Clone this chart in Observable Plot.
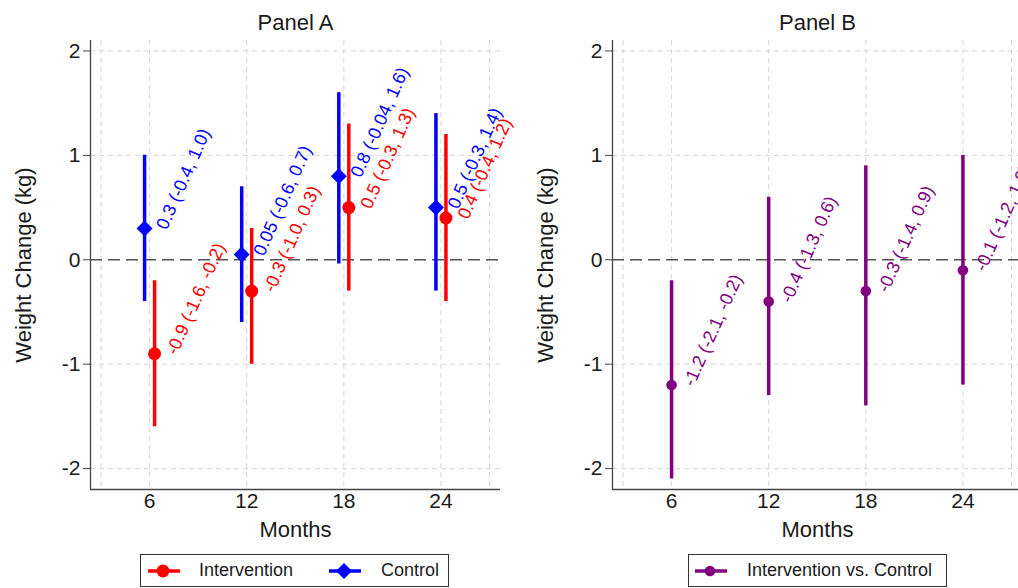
<!DOCTYPE html>
<html><head><meta charset="utf-8">
<script src="https://cdn.jsdelivr.net/npm/d3@7"></script>
<script src="https://cdn.jsdelivr.net/npm/@observablehq/plot@0.6"></script>
<style>
html,body{margin:0;padding:0;background:#fff;}
#wrap{position:relative;width:1018px;height:588px;overflow:hidden;font-family:"Liberation Sans",Arial,sans-serif;color:#1a1a1a;}
.panel{position:absolute;top:0;width:509px;height:588px;}
.panel svg{overflow:visible;max-width:none !important;width:509px;height:588px;}
.legend{position:absolute;top:554px;height:33px;box-sizing:border-box;border:1.5px solid #333;background:#fff;}
.legend .sym{position:absolute;top:5px;}
.legend .lab{position:absolute;top:0;line-height:30px;font-size:18px;white-space:nowrap;}
</style>
</head><body>
<div id="wrap"></div>
<script>
// ---- data ----
const months = [6, 12, 18, 24];
const interventionEst = [-0.9, -0.3, 0.5, 0.4];
const interventionLo  = [-1.6, -1.0, -0.3, -0.4];
const interventionHi  = [-0.2, 0.3, 1.3, 1.2];
const controlEst = [0.3, 0.05, 0.8, 0.5];
const controlLo  = [-0.4, -0.6, -0.04, -0.3];
const controlHi  = [1.0, 0.7, 1.6, 1.4];
const diffEst = [-1.2, -0.4, -0.3, -0.1];
const diffLo  = [-2.1, -1.3, -1.4, -1.2];
const diffHi  = [-0.2, 0.6, 0.9, 1.0];
const yTicks = [-2, -1, 0, 1, 2];
const xTicks = [6, 12, 18, 24];
const xGridVals = [3, 6, 12, 18, 24, 27];
const yGridVals = [-2, -1, 1, 2];
const panelTitles = ["Panel A", "Panel B"];
const yTitle = "Weight Change (kg)";
const xTitle = "Months";
const seriesNames = ["Intervention", "Control", "Intervention vs. Control"];

const xDomain = [2.35, 27.68];
const yDomain = [-2.2, 2.1];

const fmt = v => Math.abs(v * 10 - Math.round(v * 10)) < 1e-9 ? v.toFixed(1) : v.toFixed(2);
const rows = (est, lo, hi) => months.map((m, i) => ({
  m, est: est[i], lo: lo[i], hi: hi[i],
  label: `${fmt(est[i])} (${fmt(lo[i])}, ${fmt(hi[i])})`
}));

const intervention = rows(interventionEst, interventionLo, interventionHi);
const control = rows(controlEst, controlLo, controlHi);
const diff = rows(diffEst, diffLo, diffHi);

function seriesMarks(data, color, symbol, r, dx) {
  return [
    Plot.ruleX(data, {x: "m", y1: "lo", y2: "hi", dx, stroke: color, strokeWidth: 3.5}),
    Plot.dot(data, {x: "m", y: "est", dx, r, symbol, fill: color, stroke: "none"}),
    Plot.text(data, {x: "m", y: "est", text: "label", dx: dx + 17, rotate: -66,
      textAnchor: "start", lineAnchor: "middle", fill: color, fontSize: 18})
  ];
}

function panel(title, extra) {
  return Plot.plot({
    width: 509, height: 588,
    marginLeft: 90, marginRight: 9, marginTop: 40, marginBottom: 99,
    style: {fontFamily: '"Liberation Sans", Arial, sans-serif', fontSize: "21px", color: "#1a1a1a", background: "transparent", maxWidth: "none"},
    x: {domain: xDomain},
    y: {domain: yDomain},
    marks: [
      Plot.ruleY(yGridVals, {y: d => d, stroke: "#d6d6d6", strokeWidth: 1, strokeDasharray: "5,4"}),
      Plot.ruleX(xGridVals, {x: d => d, stroke: "#d6d6d6", strokeWidth: 1, strokeDasharray: "5,4"}),
      Plot.ruleY([0], {y: d => d, stroke: "#555", strokeWidth: 1.5, strokeDasharray: "12,6"}),
      Plot.ruleX([xDomain[0]], {x: d => d, stroke: "#444", strokeWidth: 1.3}),
      Plot.ruleY([yDomain[0]], {y: d => d, stroke: "#444", strokeWidth: 1.3}),
      Plot.axisY({ticks: yTicks, tickSize: 7, tickPadding: 3, fontSize: 21, label: null, tickFormat: d => String(d), stroke: "#444"}),
      Plot.axisX({ticks: xTicks, tickSize: 0, tickPadding: 4, fontSize: 21, label: null, tickFormat: d => String(d)}),
      Plot.text([title], {text: d => d, frameAnchor: "top", dy: -18, fontSize: 22, lineAnchor: "middle"}),
      Plot.text([yTitle], {text: d => d, frameAnchor: "left", dx: -67, rotate: -90, fontSize: 22, lineAnchor: "middle", textAnchor: "middle"}),
      Plot.text([xTitle], {text: d => d, frameAnchor: "bottom", dy: 40, fontSize: 22, lineAnchor: "middle"}),
      ...extra
    ]
  });
}

const wrap = document.getElementById("wrap");

const pA = panel(panelTitles[0], [
  ...seriesMarks(control, "#0000ff", "diamond2", 7.2, -5),
  ...seriesMarks(intervention, "#ff0000", "circle", 6.5, 5)
]);
const dA = document.createElement("div"); dA.className = "panel"; dA.style.left = "0px"; dA.appendChild(pA); wrap.appendChild(dA);

const pB = panel(panelTitles[1], [
  ...seriesMarks(diff, "#800080", "circle", 5.3, 0)
]);
const dB = document.createElement("div"); dB.className = "panel"; dB.style.left = "522px"; dB.appendChild(pB); wrap.appendChild(dB);

// ---- legends ----
function symSvg(color, kind) {
  const shape = kind === "diamond"
    ? `<path d="M16,3 L24,11 L16,19 L8,11 Z" fill="${color}"/>`
    : `<circle cx="16" cy="11" r="${kind === 'small' ? 5.3 : 6.5}" fill="${color}"/>`;
  return `<svg width="34" height="22" viewBox="0 0 34 22"><line x1="1" y1="11" x2="33" y2="11" stroke="${color}" stroke-width="3.5"/>${shape}</svg>`;
}
function legend(left, width, items) {
  const box = document.createElement("div");
  box.className = "legend";
  box.style.left = left + "px";
  box.style.width = width + "px";
  items.forEach(it => {
    const s = document.createElement("div"); s.className = "sym"; s.style.left = it.symX + "px";
    s.innerHTML = symSvg(it.color, it.kind);
    const t = document.createElement("div"); t.className = "lab"; t.style.left = it.textX + "px";
    t.textContent = it.name;
    box.appendChild(s); box.appendChild(t);
  });
  wrap.appendChild(box);
}
legend(140, 309, [
  {name: seriesNames[0], color: "#ff0000", kind: "circle", symX: 6, textX: 58},
  {name: seriesNames[1], color: "#0000ff", kind: "diamond", symX: 187, textX: 240}
]);
legend(688, 259, [
  {name: seriesNames[2], color: "#800080", kind: "small", symX: 5, textX: 58}
]);
</script>
</body></html>
